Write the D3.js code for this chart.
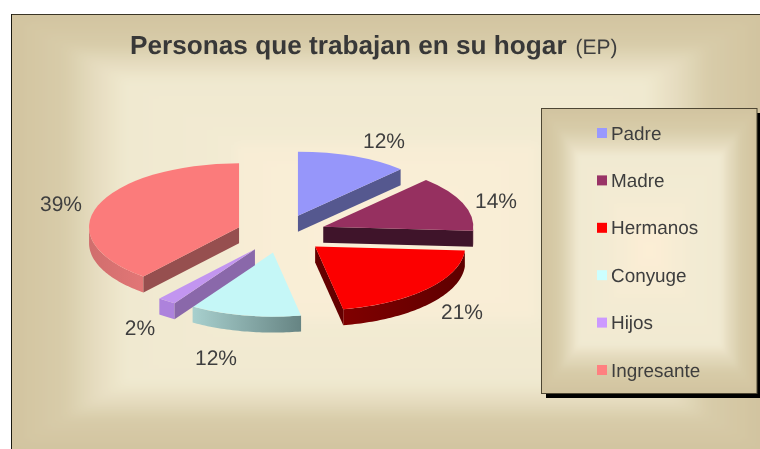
<!DOCTYPE html>
<html><head><meta charset="utf-8">
<script src="https://cdn.jsdelivr.net/npm/d3@7"></script>
<style>html,body{margin:0;padding:0;background:#fff}svg{display:block;filter:blur(0.35px)}text{font-family:"Liberation Sans",Arial,sans-serif;fill:#3e3e3e;text-rendering:geometricPrecision}</style>
</head><body><script>
const categories = ["Padre","Madre","Hermanos","Conyuge","Hijos","Ingresante"];
const percents = [12,14,21,12,2,39];
const colors = ["#9999ff","#993366","#ff0000","#ccffff","#cc99ff","#ff8080"];
const topColors = ["#9696fa","#963060","#fc0000","#c5f7f7","#c295f0","#fb7b7b"];
const cutColors = ["#55588f","#3f142a","#640000","#6a8a8a","#8a68aa","#964f4f"];
const wallFrom = ["#55588f","#70254a","#800000","#a8d0ce","#ad82dc","#d06e6d"];
const wallTo = ["#55588f","#70254a","#5e0000","#668483","#ad82dc","#e27676"];
const labelCenters = [[384,141],[496,201],[462,312],[216,358],[140,328],[61,204]];

const W=760,H=449, cx=281.4, cy=233.7, rx=150, ry=64, depth=16, explode=0.3;
const svg=d3.select("body").append("svg").attr("width",W).attr("height",H);
const defs=svg.append("defs");
defs.append("filter").attr("id","softBg").attr("x",-0.1).attr("y",-0.1).attr("width",1.2).attr("height",1.2)
  .append("feGaussianBlur").attr("stdDeviation",5);
defs.append("filter").attr("id","softLg").attr("x",-0.1).attr("y",-0.1).attr("width",1.2).attr("height",1.2)
  .append("feGaussianBlur").attr("stdDeviation",2);
defs.append("clipPath").attr("id","clipBg").append("rect").attr("x",12).attr("y",15).attr("width",748).attr("height",434);
defs.append("clipPath").attr("id","clipLg").append("rect").attr("x",542).attr("y",108).attr("width",215).attr("height",285);

function bevel(g,x,y,w,h,stops,colorsS,n){
  const col=d3.scaleLinear().domain(stops).range(colorsS).interpolate(d3.interpolateRgb);
  g.append("rect").attr("x",x-30).attr("y",y-30).attr("width",w+60).attr("height",h+60).attr("fill",col(0));
  d3.range(n).forEach(i=>{
    const t=i/n;
    g.append("rect").attr("x",x+t*w/2).attr("y",y+t*h/2).attr("width",w*(1-t)).attr("height",h*(1-t))
     .attr("fill",col(t)).attr("shape-rendering","crispEdges");
  });
}
// chart background
const bgClip=svg.append("g").attr("clip-path","url(#clipBg)");
bevel(bgClip.append("g").attr("filter","url(#softBg)"),12,15,748,434,
  [0,.13,.22,.3,.59,.6,1],["#d2c4a0","#d8cca9","#e6ddc0","#f0e9d0","#f3ebd3","#f8edd5","#fbefd8"],70);
svg.append("line").attr("x1",12).attr("x2",760).attr("y1",14.5).attr("y2",14.5).attr("stroke","#3a3525");
svg.append("line").attr("x1",11.5).attr("x2",11.5).attr("y1",14).attr("y2",449).attr("stroke","#1a1a10");

// title
const title=svg.append("text").attr("x",130).attr("y",54);
title.append("tspan").attr("font-weight","bold").attr("font-size",26.2).attr("fill","#383838").text("Personas que trabajan en su hogar");
title.append("tspan").attr("font-size",21).attr("dx",9).text("(EP)");

// pie
const pie=d3.pie().sort(null).value(d=>d)(percents);
const unitArc=d3.arc().innerRadius(0).outerRadius(1);
const px=(a)=>Math.sin(a)*rx, py=(a)=>-Math.cos(a)*ry;
const plot=svg.append("g");
const order=[0,1,5,2,3,4]; // back to front
order.forEach(i=>{
  const s=pie[i], mid=(s.startAngle+s.endAngle)/2;
  const ox=cx+explode*px(mid), oy=cy+explode*py(mid);
  const g=plot.append("g").attr("transform",`translate(${ox},${oy})`);
  const cut=(a)=>{
    const p=d3.path();p.moveTo(0,0);p.lineTo(px(a),py(a));p.lineTo(px(a),py(a)+depth);p.lineTo(0,depth);p.closePath();
    g.append("path").attr("d",p).attr("fill",cutColors[i]);
  };
  const a0=Math.max(s.startAngle,Math.PI/2), a1=Math.min(s.endAngle,3*Math.PI/2);
  if(a1>a0){
    const pts=d3.range(a0,a1,0.02).concat([a1]);
    const line=d3.line()(pts.map(a=>[px(a),py(a)]).concat(pts.slice().reverse().map(a=>[px(a),py(a)+depth])))+"Z";
    const id="w"+i;
    const xs=[px(a0),px(a1)];
    const lg=defs.append("linearGradient").attr("id",id).attr("gradientUnits","userSpaceOnUse")
      .attr("x1",d3.min(xs)).attr("x2",d3.max(xs)).attr("y1",0).attr("y2",0);
    lg.append("stop").attr("offset",0).attr("stop-color",wallFrom[i]);
    lg.append("stop").attr("offset",1).attr("stop-color",wallTo[i]);
    g.append("path").attr("d",line).attr("fill",`url(#${id})`);
  }
  if(Math.sin(s.startAngle)<-1e-6) cut(s.startAngle);
  if(Math.sin(s.endAngle)>1e-6) cut(s.endAngle);
  g.append("path").attr("d",unitArc(s)).attr("transform",`scale(${rx},${ry})`).attr("fill",topColors[i]);
});

// labels
plot.selectAll("text.pct").data(percents).join("text").attr("class","pct")
  .attr("x",(d,i)=>labelCenters[i][0]).attr("y",(d,i)=>labelCenters[i][1]+7)
  .attr("text-anchor","middle").attr("font-size",21).text(d=>d+"%");

// legend
svg.append("rect").attr("x",546).attr("y",113).attr("width",214).attr("height",285).attr("fill","#000");
const lgClip=svg.append("g").attr("clip-path","url(#clipLg)");
bevel(lgClip.append("g").attr("filter","url(#softLg)"),542,108,215,285,
  [0,.14,.25,.33,.6,1],["#d2c4a0","#d8cca9","#e5dcbf","#f1ead2","#f3ebd3","#fdeed5"],40);
const lg=svg.append("g");
lg.append("rect").attr("x",541.5).attr("y",108.5).attr("width",215.5).attr("height",285).attr("fill","none").attr("stroke","#4d4633");
const ly=d3.scalePoint().domain(categories).range([133,370]);
const items=lg.selectAll("g.item").data(categories).join("g").attr("class","item").attr("transform",d=>`translate(597,${ly(d)})`);
items.append("rect").attr("y",-5).attr("width",10).attr("height",10).attr("fill",(d,i)=>colors[i]);
items.append("text").attr("x",14).attr("y",6.5).attr("font-size",18.9).text(d=>d);
</script></body></html>
